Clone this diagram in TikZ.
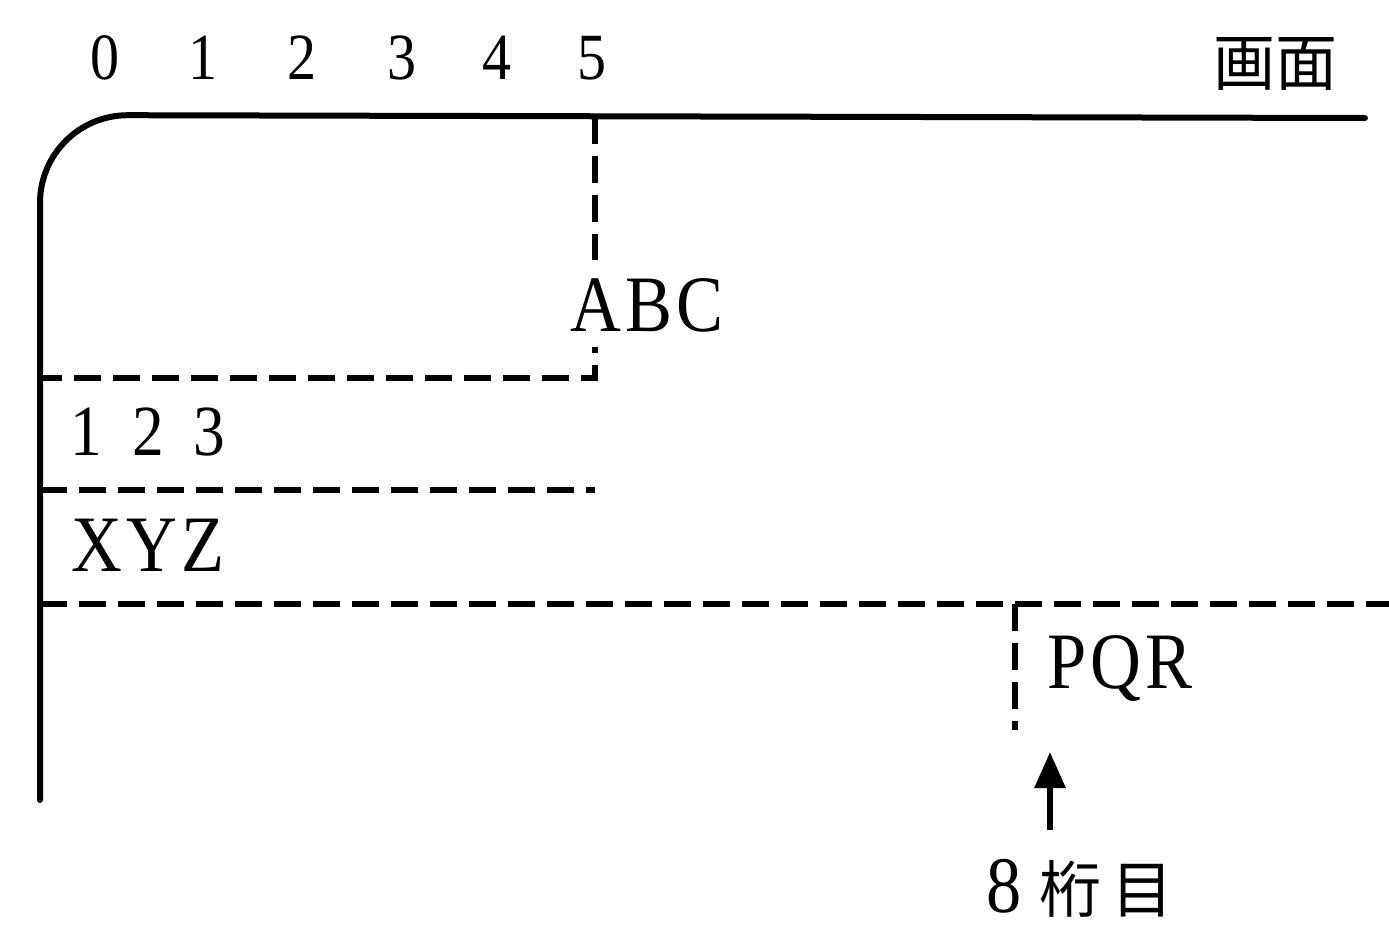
\documentclass[tikz,border=0pt]{standalone}
\usepackage{fontspec}
\usetikzlibrary{arrows.meta}
\setmainfont{Liberation Serif}
\newfontfamily\latn[FakeStretch=0.88,LetterSpace=5]{Liberation Serif}
\newfontfamily\jpn{Noto Sans CJK JP}

\begin{document}
\begin{tikzpicture}[x=1pt,y=-1pt,
  frame/.style={line width=6pt, line cap=round},
  guide/.style={line width=6pt, dash pattern=on 27pt off 12pt},
  pointer/.style={line width=6pt, -{Triangle[length=36pt,width=30pt]}},
  colnum/.style={font=\latn\fontsize{66}{66}\selectfont, inner sep=0pt},
  lbl/.style={font=\latn\fontsize{80}{80}\selectfont, inner sep=0pt},
  kanji/.style={font=\jpn\fontsize{62}{62}\selectfont, inner sep=0pt},
]
\useasboundingbox (0,0) rectangle (1389,927);

% column numbers along the top edge
\foreach \n/\x in {0/105,1/203,2/302,3/402,4/497,5/592}
  \node[colnum] (c\n) at (\x,58) {\n};
\node[kanji] (screen) at (1275,64) {画面};

% screen frame with rounded upper-left corner
\draw[frame, rounded corners=88pt] (1365,118) -- (40,115) -- (40,800);

% text blocks
\node[lbl] (abc) at (647,305) {ABC};
\node[lbl, font=\latn\fontsize{72}{72}\selectfont] (n123) at (148,432) {1\hspace{30pt}2\hspace{30pt}3};
\node[lbl] (xyz) at (148,545) {XYZ};
\node[lbl] (pqr) at (1120,668) {PQR};

% dashed field boundaries
\coordinate (v5top) at (595,117);
\coordinate (v5a) at (595,260);
\coordinate (v5b) at (595,347);
\coordinate (corner5) at (595,378);
\coordinate (row1) at (40,378);
\draw[guide] (v5top) -- (v5a);
\draw[guide, dash phase=21pt] (v5b) -- (corner5) -- (row1);
\draw[guide] (40,490) coordinate (row2l) -- (595,490) coordinate (row2r);
\draw[guide] (40,604) coordinate (row3l) -- (1389,604) coordinate (row3r);
\draw[guide] (1015,604) coordinate (v8top) -- (1015,730) coordinate (v8bot);

% column marker
\node[inner sep=0pt] (keta) at (1080,888)
  {{\latn\fontsize{80}{80}\selectfont 8}\hspace{18pt}{\jpn\fontsize{62}{62}\selectfont 桁\hspace{10pt}目}};
\coordinate (tail) at (1050,830);
\coordinate (tip) at (1050,752);
\draw[pointer] (tail) -- (tip);
\end{tikzpicture}
\end{document}
